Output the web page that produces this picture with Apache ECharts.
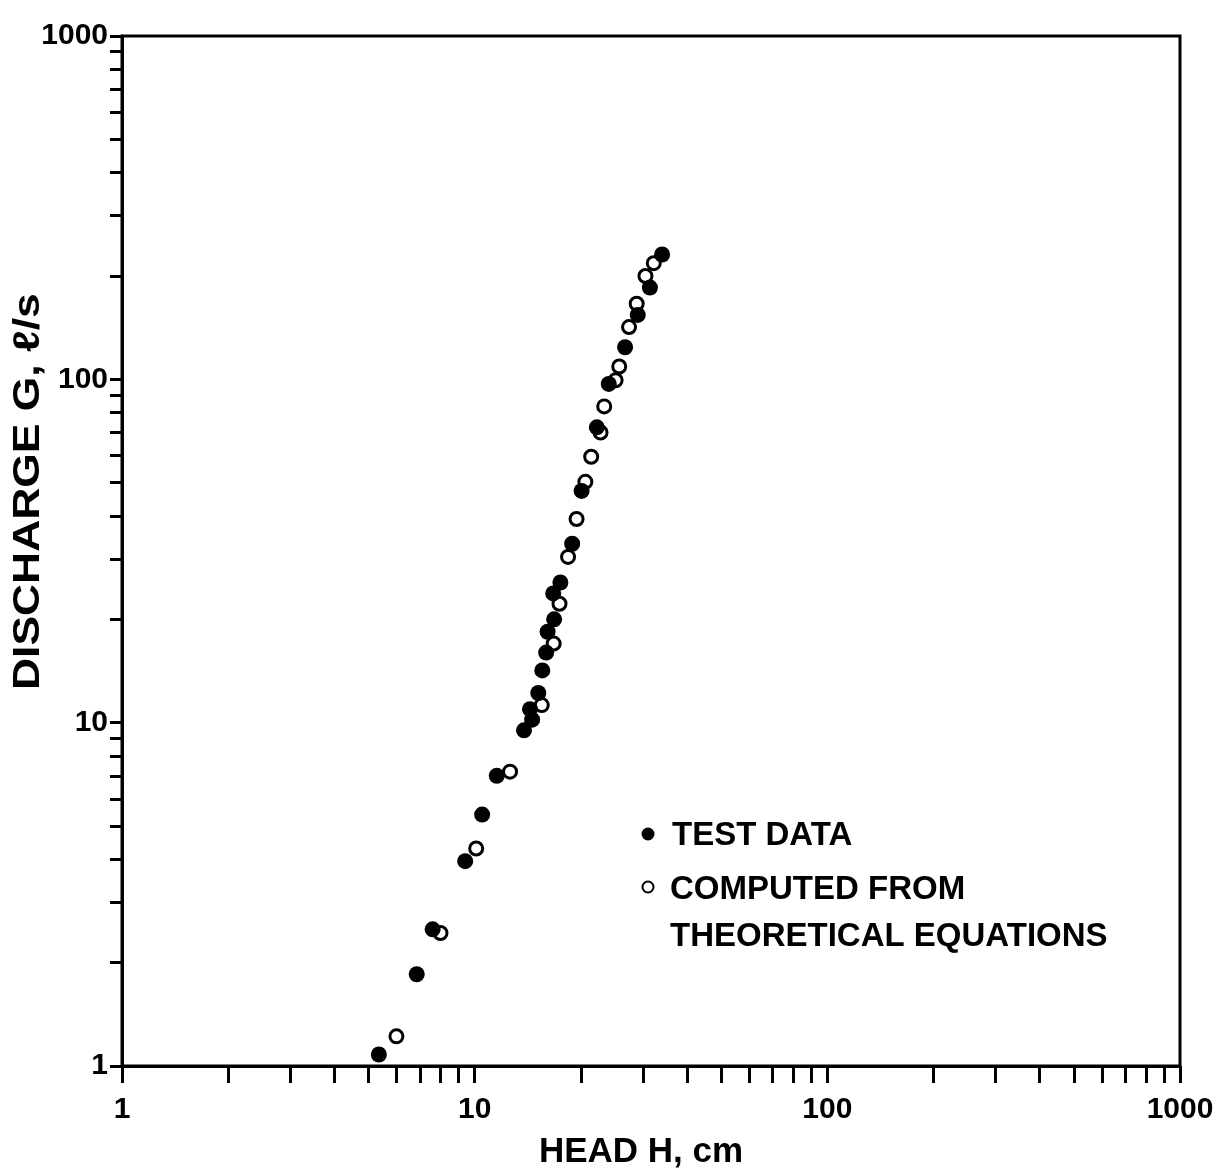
<!DOCTYPE html>
<html>
<head>
<meta charset="utf-8">
<script src="https://cdn.jsdelivr.net/npm/echarts@6/dist/echarts.min.js"></script>
<style>
html,body{margin:0;padding:0;background:#fff;}
#chart{width:1217px;height:1174px;}
</style>
</head>
<body>
<div id="chart"></div>
<script>
// ---- data (HEAD H in cm, DISCHARGE G in l/s) ----
const headTest = [5.35, 6.85, 7.6, 9.4, 10.5, 11.55, 13.8, 14.55, 14.35, 15.15, 15.55, 15.95, 16.1, 16.8, 16.7, 17.5, 18.9, 20.1, 22.2, 24.0, 26.7, 29.0, 31.4, 34.0];
const dischargeTest = [1.08, 1.85, 2.5, 3.95, 5.4, 7.0, 9.5, 10.2, 10.95, 12.2, 14.2, 16.0, 18.4, 20.0, 23.8, 25.6, 33.2, 47.3, 72.5, 97, 124, 154, 185, 231];

const headComputed = [6.0, 8.0, 10.1, 12.6, 15.5, 16.75, 17.4, 18.4, 19.45, 20.6, 21.4, 22.75, 23.3, 25.1, 25.7, 27.4, 28.8, 30.5, 32.2];
const dischargeComputed = [1.22, 2.44, 4.3, 7.2, 11.25, 17.0, 22.2, 30.4, 39.2, 50.3, 59.5, 70, 83.4, 99.4, 109, 142, 166, 200, 218];

const decadeLabels = [1, 10, 100, 1000];
const tickMultipliers = [1, 2, 3, 4, 5, 6, 7, 8, 9];

const seriesNames = ['TEST DATA', 'COMPUTED FROM\nTHEORETICAL EQUATIONS'];
const legendLines = ['TEST DATA', 'COMPUTED FROM', 'THEORETICAL EQUATIONS'];
const xAxisName = 'HEAD H, cm';
const yAxisName = 'DISCHARGE G, \u2113/s';

// ---- build helpers ----
const tickValues = [];
decadeLabels.slice(0, -1).forEach(d => tickMultipliers.forEach(m => tickValues.push(d * m)));
tickValues.push(decadeLabels[decadeLabels.length - 1]);

const testPoints = headTest.map((h, i) => [h, dischargeTest[i]]);
const computedPoints = headComputed.map((h, i) => [h, dischargeComputed[i]]);

const FONT = '"Liberation Sans", Arial, "DejaVu Sans", sans-serif';

const chart = echarts.init(document.getElementById('chart'), null, {renderer: 'canvas'});

const axisCommon = {
  type: 'log',
  logBase: 10,
  min: 1,
  max: 1000,
  splitLine: {show: false},
  minorTick: {show: false},
  axisLine: {show: true, onZero: false, lineStyle: {color: '#000', width: 3}},
};

chart.setOption({
  backgroundColor: '#fff',
  animation: false,
  grid: {left: 122, right: 37, top: 36, bottom: 108, show: true, borderColor: '#000', borderWidth: 3, containLabel: false},
  xAxis: Object.assign({}, axisCommon, {
    axisTick: {show: true, inside: false, length: 17, lineStyle: {color: '#000', width: 3}, customValues: tickValues},
    axisLabel: {show: true, customValues: decadeLabels, margin: 29, color: '#000', fontFamily: FONT, fontWeight: 'bold', fontSize: 30, formatter: v => String(Math.round(v))},
    name: ''
  }),
  yAxis: Object.assign({}, axisCommon, {
    axisTick: {show: true, inside: false, length: 12, lineStyle: {color: '#000', width: 3}, customValues: tickValues},
    axisLabel: {show: true, customValues: decadeLabels, margin: 14, color: '#000', fontFamily: FONT, fontWeight: 'bold', fontSize: 30, formatter: v => String(Math.round(v))},
    name: ''
  }),
  series: [
    {
      name: seriesNames[0],
      type: 'scatter',
      data: testPoints,
      symbol: 'circle',
      symbolSize: 16,
      itemStyle: {color: '#000', opacity: 1},
      z: 3
    },
    {
      name: seriesNames[1],
      type: 'scatter',
      data: computedPoints,
      symbol: 'circle',
      symbolSize: 13,
      itemStyle: {color: '#fff', borderColor: '#000', borderWidth: 3, opacity: 1},
      z: 2
    }
  ],
  graphic: [
    {
      type: 'text',
      x: 10, y: 690,
      rotation: Math.PI / 2,
      scaleX: 1.2,
      style: {text: yAxisName, fill: '#000', font: 'bold 37px ' + FONT, align: 'left', verticalAlign: 'top'}
    },
    {
      type: 'text',
      x: 641, y: 1152,
      style: {text: xAxisName, fill: '#000', font: 'bold 35px ' + FONT, align: 'center', verticalAlign: 'middle'}
    },
    {type: 'circle', shape: {cx: 648, cy: 834, r: 6.5}, style: {fill: '#000'}},
    {type: 'text', x: 672, y: 836, style: {text: legendLines[0], fill: '#000', font: 'bold 33px ' + FONT, verticalAlign: 'middle'}},
    {type: 'circle', shape: {cx: 648, cy: 887, r: 5.5}, style: {fill: '#fff', stroke: '#000', lineWidth: 2}},
    {type: 'text', x: 670, y: 890, style: {text: legendLines[1], fill: '#000', font: 'bold 33px ' + FONT, verticalAlign: 'middle'}},
    {type: 'text', x: 670, y: 937, style: {text: legendLines[2], fill: '#000', font: 'bold 33px ' + FONT, verticalAlign: 'middle'}}
  ]
});
</script>
</body>
</html>
